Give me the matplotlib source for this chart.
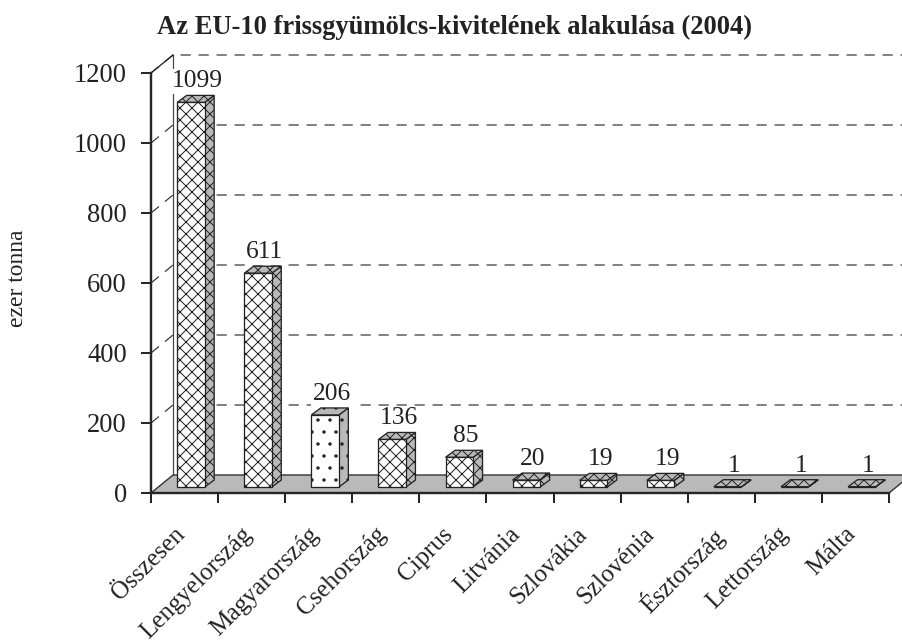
import matplotlib
matplotlib.use("Agg")
import matplotlib.pyplot as plt
from matplotlib.patches import Polygon
from matplotlib.transforms import ScaledTranslation

plt.rcParams['font.family'] = ['Liberation Serif', 'DejaVu Serif']
plt.rcParams['hatch.linewidth'] = 1.0
plt.rcParams['hatch.color'] = '#222222'

categories = ['Összesen', 'Lengyelország', 'Magyarország', 'Csehország', 'Ciprus',
              'Litvánia', 'Szlovákia', 'Szlovénia', 'Észtország', 'Lettország', 'Málta']
values = [1099, 611, 206, 136, 85, 20, 19, 19, 1, 1, 1]
hatches = ['xx', 'xx', '.', 'xx', 'xx', 'xx', 'xx', 'xx', 'xx', 'xx', 'xx']
y_ticks = [0, 200, 400, 600, 800, 1000, 1200]

W, H = 902, 644
fig = plt.figure(figsize=(W / 72, H / 72), dpi=72, facecolor='white')
ax = fig.add_axes([151 / W, (H - 493) / H, 738 / W, 420 / H])
n = len(categories)
ax.set_xlim(0, n)
ax.set_ylim(0, 1200)
ax.patch.set_visible(False)

# depth of the pseudo-3D projection, in data units
wall_dx, wall_dy = 22 / 67.1, 18 * 1200 / 420
bar_dx, bar_dy = 9.5 / 67.1, 7 * 1200 / 420
bar_left, bar_width, bar_base = 0.39, 0.41, 17
dark, grey = '#262626', '#b9b9b9'

# floor
ax.add_patch(Polygon([(0, 0), (n, 0), (n + wall_dx, wall_dy), (wall_dx, wall_dy)],
                     closed=True, fc=grey, ec='#333333', lw=1.4, clip_on=False, zorder=1))
# back wall edge
ax.plot([wall_dx, wall_dx], [wall_dy, 1200 + wall_dy], color='#444444', lw=1.2,
        clip_on=False, zorder=1)
# gridlines
for t in y_ticks[1:]:
    ax.plot([0, wall_dx, n + wall_dx], [t, t + wall_dy, t + wall_dy], color='#333333', lw=1.2,
            dashes=(8.5, 6.5), clip_on=False, zorder=1)
ax.plot([0, wall_dx], [1200, 1200 + wall_dy], color='#222222', lw=1.3, clip_on=False, zorder=1)

# bars
for i, (v, h) in enumerate(zip(values, hatches)):
    x0 = i + bar_left
    x1 = x0 + bar_width
    y0 = bar_base
    y1 = y0 + v
    kw = dict(closed=True, ec='#222222', lw=1.3, clip_on=False, zorder=3)
    ax.add_patch(Polygon([(x1, y0), (x1 + bar_dx, y0 + bar_dy), (x1 + bar_dx, y1 + bar_dy), (x1, y1)],
                         fc=grey, hatch=h, **kw))
    ax.add_patch(Polygon([(x0, y1), (x1, y1), (x1 + bar_dx, y1 + bar_dy), (x0 + bar_dx, y1 + bar_dy)],
                         fc=grey, hatch=h, **kw))
    ax.add_patch(Polygon([(x0, y0), (x1, y0), (x1, y1), (x0, y1)],
                         fc='white', hatch=h, **kw))
    ax.annotate(str(v), xy=(x0 + (bar_width + bar_dx) / 2, y1 + bar_dy), xytext=(2, 8),
                textcoords='offset points', ha='center', va='baseline', fontsize=25.5,
                color='#222222', zorder=2,
                bbox=dict(fc='white', ec='none', pad=1.5) if v > 200 else None)

# axes
for s in ['top', 'right']:
    ax.spines[s].set_visible(False)
for s in ['left', 'bottom']:
    ax.spines[s].set_linewidth(2.4)
    ax.spines[s].set_color(dark)
    ax.spines[s].set_zorder(4)
ax.set_yticks(y_ticks)
ax.set_yticklabels([str(t) for t in y_ticks], fontsize=26.5, color='#222222')
ax.tick_params(axis='y', length=10, width=2, color=dark, pad=14)
ax.set_xticks(range(n + 1))
ax.set_xticklabels([])
ax.tick_params(axis='x', which='major', length=10, width=2, color=dark)
ax.set_xticks([i + 0.5 for i in range(n)], minor=True)
ax.set_xticklabels(categories, minor=True, rotation=45, ha='right', va='top',
                   rotation_mode='anchor', fontsize=25, color='#222222')
ax.tick_params(axis='x', which='minor', length=0, pad=30)
shift = ScaledTranslation(-11 / 72, 0, fig.dpi_scale_trans)
for lab in ax.get_xticklabels(minor=True):
    lab.set_transform(lab.get_transform() + shift)

fig.text(455 / W, 1 - 27 / H, 'Az EU-10 frissgyümölcs-kivitelének alakulása (2004)',
         ha='center', va='center', fontsize=26.5, fontweight='bold', color='#222222')
fig.text(18 / W, 1 - 278 / H, 'ezer tonna', rotation=90, ha='center', va='center',
         fontsize=23.5, color='#222222')

fig.savefig('out.png', dpi=72, facecolor='white')
